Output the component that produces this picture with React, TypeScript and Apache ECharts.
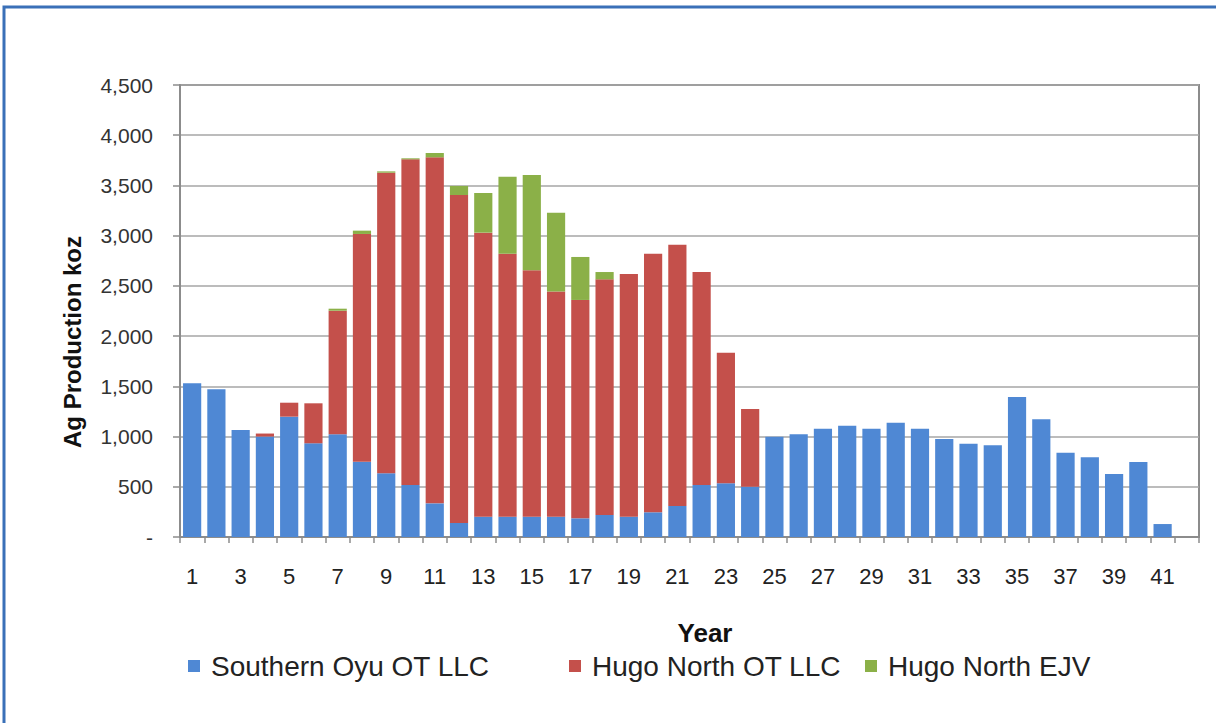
import React, { useEffect, useRef } from "react";
import * as echarts from "echarts";

const years: string[] = Array.from({ length: 42 }, (_, i) => String(i + 1));

const southernOyu: number[] = [
  1530, 1470, 1065, 1000, 1198, 933, 1022, 750, 634, 518, 335, 140, 202, 202,
  202, 202, 186, 219, 202, 246, 309, 518, 534, 501, 999, 1022, 1078, 1108,
  1078, 1138, 1078, 976, 929, 913, 1394, 1172, 839, 793, 627, 747, 129, 0,
];

const hugoNorthOT: number[] = [
  0, 0, 0, 30, 139, 398, 1231, 2267, 2993, 3242, 3445, 3265, 2828, 2618, 2453,
  2241, 2174, 2346, 2416, 2574, 2601, 2120, 1301, 773, 0, 0, 0, 0, 0, 0, 0, 0,
  0, 0, 0, 0, 0, 0, 0, 0, 0, 0,
];

const hugoNorthEJV: number[] = [
  0, 0, 0, 0, 0, 0, 20, 33, 13, 10, 43, 90, 395, 767, 949, 786, 428, 73, 0, 0,
  0, 0, 0, 0, 0, 0, 0, 0, 0, 0, 0, 0, 0, 0, 0, 0, 0, 0, 0, 0, 0, 0,
];

const seriesNames = ["Southern Oyu OT LLC", "Hugo North OT LLC", "Hugo North EJV"];
const colors = ["#4F88D4", "#C4504B", "#8BB048"];

const FONT = "'Liberation Sans', Arial, sans-serif";

export default function App() {
  const ref = useRef<HTMLDivElement>(null);

  useEffect(() => {
    if (!ref.current) return;
    const chart = echarts.init(ref.current, null, { renderer: "svg" });
    const legendBase = {
      top: 647,
      itemWidth: 12,
      itemHeight: 12,
      icon: "rect",
      textStyle: {
        fontFamily: FONT,
        fontSize: 28,
        color: "#222",
        padding: [0, 0, 0, 6],
      },
    };
    chart.setOption({
      animation: false,
      backgroundColor: "#ffffff",
      color: colors,
      grid: {
        left: 180,
        right: 17,
        top: 85,
        bottom: 186,
        show: true,
        borderColor: "#8c8c8c",
        borderWidth: 2,
        containLabel: false,
      },
      legend: [
        { ...legendBase, left: 183, data: [seriesNames[0]] },
        { ...legendBase, left: 564, data: [seriesNames[1]] },
        { ...legendBase, left: 860, data: [seriesNames[2]] },
      ],
      xAxis: {
        type: "category",
        data: years,
        axisLine: { show: true, lineStyle: { color: "#8c8c8c", width: 2 } },
        axisTick: {
          show: true,
          interval: 0,
          length: 6,
          lineStyle: { color: "#8c8c8c", width: 1.5 },
        },
        axisLabel: {
          interval: 1,
          fontFamily: FONT,
          fontSize: 22,
          color: "#222",
          margin: 28,
        },
      },
      yAxis: {
        type: "value",
        min: 0,
        max: 4500,
        interval: 500,
        axisLine: { show: true, lineStyle: { color: "#8c8c8c", width: 2 } },
        axisTick: {
          show: true,
          length: 7,
          lineStyle: { color: "#8c8c8c", width: 1.5 },
        },
        splitLine: { show: true, lineStyle: { color: "#a6a6a6", width: 1.5 } },
        axisLabel: {
          fontFamily: FONT,
          fontSize: 21,
          color: "#333",
          margin: 27,
          formatter: (v: number) =>
            v === 0 ? "-" : v.toLocaleString("en-US"),
        },
      },
      series: [
        {
          name: seriesNames[0],
          type: "bar",
          stack: "total",
          data: southernOyu,
          barCategoryGap: "25%",
        },
        {
          name: seriesNames[1],
          type: "bar",
          stack: "total",
          data: hugoNorthOT,
          barCategoryGap: "25%",
        },
        {
          name: seriesNames[2],
          type: "bar",
          stack: "total",
          data: hugoNorthEJV,
          barCategoryGap: "25%",
        },
      ],
      graphic: [
        {
          type: "rect",
          shape: { x: 4, y: 7, width: 1400, height: 900 },
          style: { fill: "none", stroke: "#3A70B8", lineWidth: 3 },
          silent: true,
        },
        {
          type: "text",
          x: 705,
          y: 633,
          style: {
            text: "Year",
            fontFamily: FONT,
            fontSize: 26,
            fontWeight: "bold",
            fill: "#111",
            align: "center",
            verticalAlign: "middle",
          },
        },
        {
          type: "text",
          x: 72,
          y: 342,
          rotation: Math.PI / 2,
          style: {
            text: "Ag Production koz",
            fontFamily: FONT,
            fontSize: 24,
            fontWeight: "bold",
            fill: "#111",
            align: "center",
            verticalAlign: "middle",
          },
        },
      ],
    });
    return () => chart.dispose();
  }, []);

  return (
    <div
      ref={ref}
      style={{ position: "fixed", left: 0, top: 0, width: 1216, height: 723 }}
    />
  );
}
